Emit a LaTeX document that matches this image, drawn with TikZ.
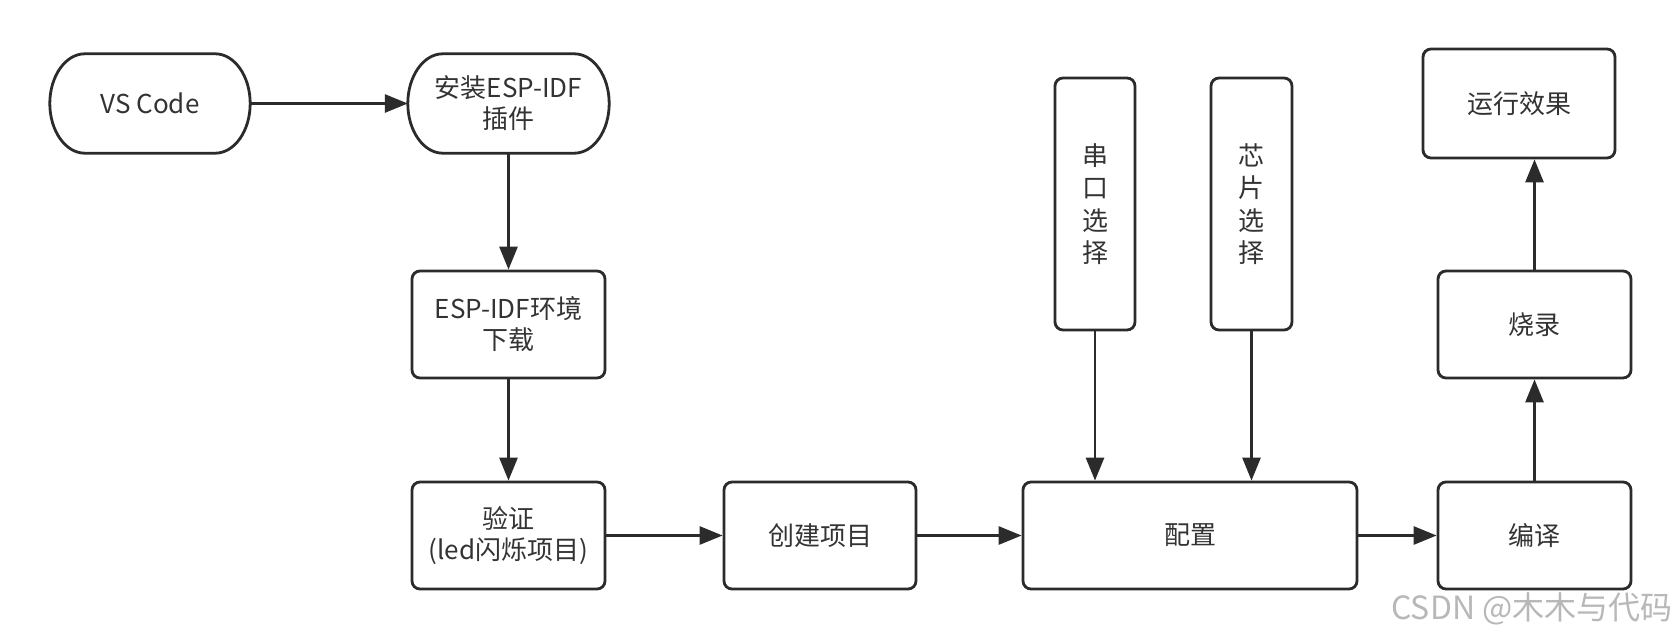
\documentclass[tikz,border=0pt]{standalone}
\usepackage{fontspec}
\setmainfont{Noto Sans CJK SC}
\usetikzlibrary{arrows.meta}
\definecolor{ln}{HTML}{2B2B2B}
\definecolor{tx}{HTML}{333333}
\begin{document}
\begin{tikzpicture}[x=1pt,y=-1pt,
  lbl/.style={align=center, text=tx, font=\fontsize{26}{31}\selectfont, inner sep=0pt},
  box/.style={lbl, draw=ln, line width=2.8pt, rounded corners=8pt},
  stad/.style={lbl, minimum width=200pt, minimum height=99pt},
  outline/.style={draw=ln, line width=2.8pt},
  arr/.style={draw=ln, line width=2.8pt, -{Triangle[length=23pt,width=18pt]}}]
\useasboundingbox[fill=white] (0,0) rectangle (1680,640);

% stadium-shaped nodes
\node[stad] (vs) at (150,103.5) {VS Code};
\node[stad, minimum width=201pt] (inst) at (508.5,103.5) {安装ESP-IDF\\插件};
\foreach \n in {vs,inst}{
  \draw[outline] ([xshift=35pt]\n.north west) -- ([xshift=-35pt]\n.north east)
    .. controls ([xshift=-15.7pt]\n.north east) and ([yshift=27.3pt]\n.east) .. (\n.east)
    .. controls ([yshift=-27.3pt]\n.east) and ([xshift=-15.7pt]\n.south east) .. ([xshift=-35pt]\n.south east)
    -- ([xshift=35pt]\n.south west)
    .. controls ([xshift=15.7pt]\n.south west) and ([yshift=-27.3pt]\n.west) .. (\n.west)
    .. controls ([yshift=27.3pt]\n.west) and ([xshift=15.7pt]\n.north west) .. ([xshift=35pt]\n.north west)
    -- cycle;
}

% rectangles
\node[box, minimum width=193pt, minimum height=107pt] (env) at (508.5,324.5) {ESP-IDF环境\\下载};
\node[box, minimum width=193pt, minimum height=107pt] (ver) at (508.5,535.5) {验证\\(led闪烁项目)};
\node[box, minimum width=192pt, minimum height=107pt] (proj) at (820,535.5) {创建项目};
\node[box, minimum width=334pt, minimum height=107pt] (cfg) at (1190,535.5) {配置};
\node[box, minimum width=80pt, minimum height=252pt, font=\fontsize{26}{32.5}\selectfont] (port) at (1095,204) {串\\口\\选\\择};
\node[box, minimum width=81pt, minimum height=252pt, font=\fontsize{26}{32.5}\selectfont] (chip) at (1251.5,204) {芯\\片\\选\\择};
\node[box, minimum width=193pt, minimum height=107pt] (comp) at (1534.5,535.5) {编译};
\node[box, minimum width=193pt, minimum height=107pt] (flash) at (1534.5,324.5) {烧录};
\node[box, minimum width=192pt, minimum height=109pt] (run) at (1519,103.5) {运行效果};

% connectors
\draw[arr] (vs.east) -- (inst.west);
\draw[arr] (inst.south) -- (env.north);
\draw[arr] (env.south) -- (ver.north);
\draw[arr] (ver.east) -- (proj.west);
\draw[arr] (proj.east) -- (cfg.west);
\draw[arr] (port.south) -- (port.south |- cfg.north);
\draw[arr] (chip.south) -- (chip.south |- cfg.north);
\draw[arr] (cfg.east) -- (comp.west);
\draw[arr] (comp.north) -- (flash.south);
\draw[arr] (flash.north) -- (flash.north |- run.south);

% watermark
\node[text=black!28, font=\fontsize{32}{34}\selectfont, inner sep=0pt] (wm) at (1532,609) {CSDN @木木与代码};
\end{tikzpicture}
\end{document}
